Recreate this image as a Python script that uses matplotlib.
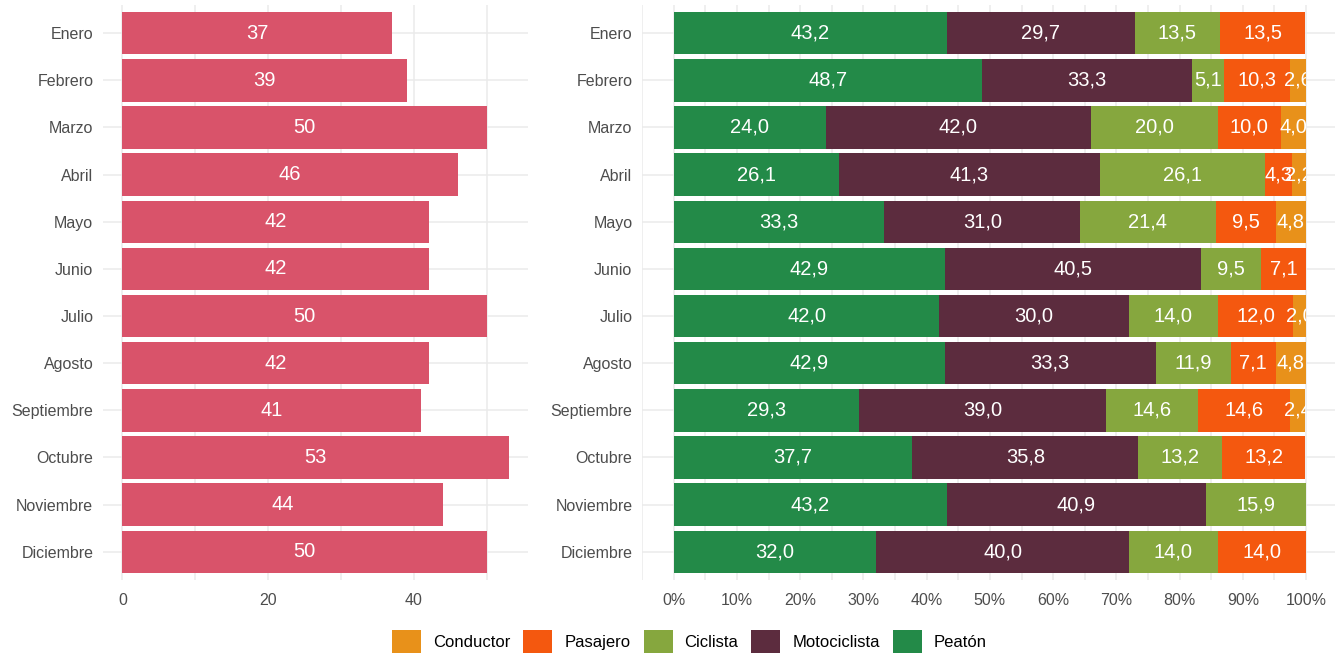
import matplotlib.pyplot as plt
from matplotlib.patches import Patch
from matplotlib.transforms import Bbox, TransformedBbox
from matplotlib.ticker import MultipleLocator, PercentFormatter

plt.rcParams['font.family'] = ['Liberation Sans', 'DejaVu Sans']

meses = ['Enero', 'Febrero', 'Marzo', 'Abril', 'Mayo', 'Junio', 'Julio',
         'Agosto', 'Septiembre', 'Octubre', 'Noviembre', 'Diciembre']
totales = [37, 39, 50, 46, 42, 42, 50, 42, 41, 53, 44, 50]

peaton = [43.2, 48.7, 24.0, 26.1, 33.3, 42.9, 42.0, 42.9, 29.3, 37.7, 43.2, 32.0]
motociclista = [29.7, 33.3, 42.0, 41.3, 31.0, 40.5, 30.0, 33.3, 39.0, 35.8, 40.9, 40.0]
ciclista = [13.5, 5.1, 20.0, 26.1, 21.4, 9.5, 14.0, 11.9, 14.6, 13.2, 15.9, 14.0]
pasajero = [13.5, 10.3, 10.0, 4.3, 9.5, 7.1, 12.0, 7.1, 14.6, 13.2, 0, 14.0]
conductor = [0, 2.6, 4.0, 2.2, 4.8, 0, 2.0, 4.8, 2.4, 0, 0, 0]

series = [('Peatón', peaton, '#238A48'),
          ('Motociclista', motociclista, '#5C2C3E'),
          ('Ciclista', ciclista, '#86A73E'),
          ('Pasajero', pasajero, '#F4580F'),
          ('Conductor', conductor, '#E8911A')]

grid_col = '#EBEBEB'
tick_col = '#4D4D4D'

fig = plt.figure(figsize=(13.35, 6.55), dpi=100)
ax1 = fig.add_axes([0.0772, 0.1145, 0.3184, 0.878])
ax2 = fig.add_axes([0.481, 0.1145, 0.521, 0.878])

y = list(range(len(meses)))

# panel izquierdo: totales
ax1.barh(y, totales, height=0.9, color='#D9536A', zorder=2)
for yi, v in zip(y, totales):
    ax1.text(v / 2, yi, str(v), color='white', ha='center', va='center',
             fontsize=14.5, zorder=3)
ax1.set_xlim(-2.65, 55.65)
ax1.xaxis.set_major_locator(MultipleLocator(20))
ax1.xaxis.set_minor_locator(MultipleLocator(10))

# panel derecho: porcentajes apilados
left = [0.0] * len(meses)
for nombre, vals, col in series:
    ax2.barh(y, vals, left=left, height=0.9, color=col, zorder=2)
    for yi, l, v in zip(y, left, vals):
        if v > 0:
            t = ax2.text(l + v / 2, yi, f'{v:.1f}'.replace('.', ','), color='white',
                         ha='center', va='center', fontsize=14.5, zorder=3)
            t.set_clip_box(TransformedBbox(Bbox([[0, -1], [100, 12]]), ax2.transData))
            t.set_clip_on(True)
    left = [a + b for a, b in zip(left, vals)]
ax2.set_xlim(-5, 105)
ax2.xaxis.set_major_locator(MultipleLocator(10))
ax2.xaxis.set_minor_locator(MultipleLocator(5))
ax2.xaxis.set_major_formatter(PercentFormatter(decimals=0))

for ax in (ax1, ax2):
    ax.set_ylim(len(meses) - 0.4, -0.6)
    ax.set_yticks(y)
    ax.set_yticklabels(meses)
    ax.tick_params(length=0, colors=tick_col, labelsize=11.5, pad=7)
    ax.tick_params(axis='x', pad=9)
    ax.tick_params(which='minor', length=0)
    for s in ax.spines.values():
        s.set_visible(False)
    ax.grid(True, which='both', color=grid_col, linewidth=1.1, zorder=0)
    ax.set_axisbelow(True)

handles = [Patch(facecolor=c, label=n) for n, _, c in reversed(series)]
fig.legend(handles=handles, loc='center', bbox_to_anchor=(0.5165, 0.021), ncol=5,
           frameon=False, fontsize=12, handlelength=1.74, handleheight=1.74,
           columnspacing=0.78, handletextpad=0.72, borderpad=0.2)

fig.savefig('out.png', dpi=100, facecolor='white')
